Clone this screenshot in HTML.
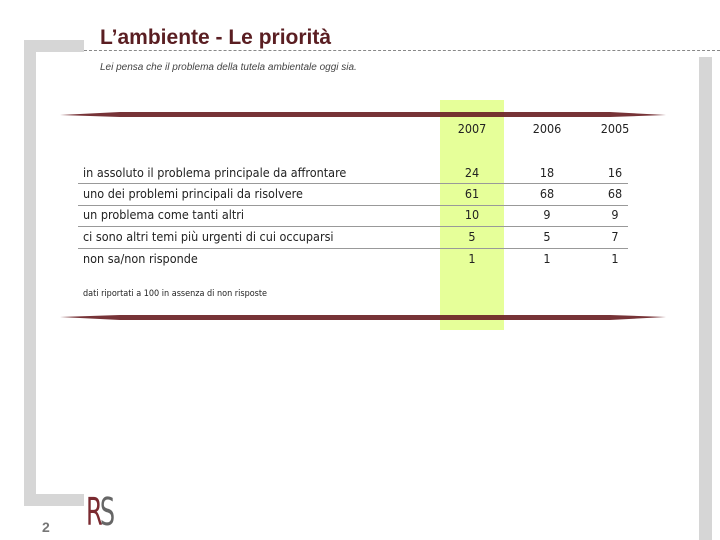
<!DOCTYPE html>
<html><head><meta charset="utf-8"><style>
body{margin:0;width:720px;height:540px;background:#fff;position:relative;overflow:hidden;font-family:"Liberation Sans",sans-serif}
.a{position:absolute}
.g{background:#d6d6d6;position:absolute}
.t{font-family:"DejaVu Sans Condensed","Liberation Sans Narrow","Liberation Sans",sans-serif;font-size:12.5px;color:#222}
</style></head><body>
<div class="g" style="left:24px;top:40px;width:12px;height:466px"></div>
<div class="g" style="left:24px;top:40px;width:60px;height:12px"></div>
<div class="g" style="left:24px;top:494px;width:60px;height:12px"></div>
<div class="g" style="left:699px;top:57px;width:13px;height:483px"></div>
<div class="a" style="left:84px;top:50px;width:636px;border-top:1px dashed #888"></div>
<div class="a" style="left:100px;top:26px;font-size:21px;font-weight:bold;color:#5a1e22">L’ambiente - Le priorità</div>
<div class="a" style="left:100px;top:62px;font-size:10px;font-style:italic;color:#444">Lei pensa che il problema della tutela ambientale oggi sia.</div>
<div class="a" style="left:440px;top:100px;width:64px;height:230px;background:#e6ff99"></div>
<svg class="a" style="left:0;top:0" width="720" height="540">
<polygon points="60,115 120,112 610,112 666,115 610,117 120,117" fill="#6b2226" opacity="0.92"/>
<polygon points="60,317 120,315 610,315 666,317 610,320 120,320" fill="#6b2226" opacity="0.92"/>
<g stroke="#999" stroke-width="1"><line x1="78" y1="183.5" x2="628" y2="183.5"/><line x1="78" y1="205.5" x2="628" y2="205.5"/><line x1="78" y1="226.5" x2="628" y2="226.5"/><line x1="78" y1="248.5" x2="628" y2="248.5"/></g>
</svg>
<div id="tbl"></div>
<div class="a t" style="left:83px;top:289px;font-size:9px">dati riportati a 100 in assenza di non risposte</div>
<div class="a" style="left:42px;top:519px;font-size:14px;font-weight:bold;color:#777">2</div>
<div class="a" style="left:86px;top:490px;font-size:38px;color:#666;letter-spacing:-4px;font-family:'DejaVu Sans Condensed',sans-serif;transform:scaleX(0.7);transform-origin:left top"><span style="color:#7a2a30">R</span>S</div>
<script>
const years=["2007","2006","2005"];
const labels=["in assoluto il problema principale da affrontare","uno dei problemi principali da risolvere","un problema come tanti altri","ci sono altri temi più urgenti di cui occuparsi","non sa/non risponde"];
const v2007=[24,61,10,5,1];
const v2006=[18,68,9,5,1];
const v2005=[16,68,9,7,1];
const cols=[v2007,v2006,v2005];
const colX=[472,547,615];
const rowY=[165,186,207,229,251];
const root=document.getElementById('tbl');
function mk(txt,x,y,center){const d=document.createElement('div');d.className='a t';d.textContent=txt;d.style.top=y+'px';if(center){d.style.left=(x-30)+'px';d.style.width='60px';d.style.textAlign='center';}else d.style.left=x+'px';root.appendChild(d);return d;}
years.forEach((y,i)=>{const d=mk(y,colX[i],121,true);

});
labels.forEach((l,r)=>{const d=mk(l,83,rowY[r],false);


cols.forEach((c,i)=>{const e=mk(String(c[r]),colX[i],rowY[r],true);

});});
</script>
</body></html>
